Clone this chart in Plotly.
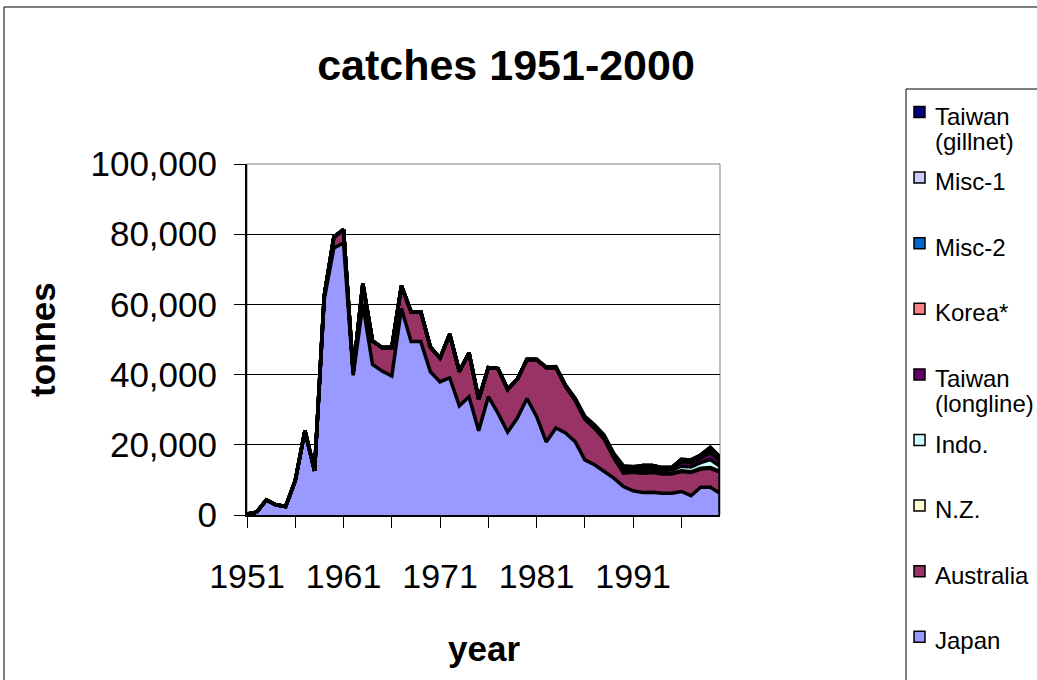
import plotly.graph_objects as go

# ---- data: southern bluefin tuna catches by fleet, tonnes ----
years = list(range(1951, 2001))

japan = [
    300, 800, 4300, 2900, 2400, 9800, 24000, 12600, 61500, 76100,
    77500, 39800, 60000, 42900, 41000, 39600, 58800, 49400, 49400, 40800,
    37900, 39100, 31100, 33700, 24000, 33700, 29000, 23600, 27600, 33200,
    28100, 20800, 24800, 23400, 20900, 15700, 14300, 12400, 10500, 8100,
    6900, 6400, 6500, 6200, 6200, 6700, 5500, 7900, 7900, 6200,
]
australia = [
    0, 0, 0, 0, 0, 0, 0, 0, 900, 3100,
    3800, 800, 5900, 6700, 6700, 8100, 6500, 8500, 8500, 7000,
    6800, 12400, 9800, 12500, 9000, 8300, 12700, 12200, 11100, 11100,
    16200, 21200, 17200, 13200, 11800, 11600, 10400, 9200, 5800, 3800,
    5300, 5500, 5600, 5500, 5500, 5700, 6600, 5200, 5400, 6000,
]
new_zealand = [
    0, 0, 0, 0, 0, 0, 0, 0, 0, 0,
    0, 0, 0, 0, 0, 0, 0, 0, 0, 0,
    0, 0, 0, 0, 0, 0, 0, 0, 0, 0,
    0, 0, 100, 100, 100, 100, 200, 200, 200, 200,
    200, 100, 200, 200, 200, 200, 200, 200, 200, 200,
]
indonesia = [
    0, 0, 0, 0, 0, 0, 0, 0, 0, 0,
    0, 0, 0, 0, 0, 0, 0, 0, 0, 0,
    0, 0, 0, 0, 0, 0, 0, 0, 0, 0,
    0, 0, 0, 0, 0, 0, 0, 0, 100, 300,
    300, 1000, 900, 800, 900, 1300, 1400, 1600, 2300, 1500,
]
taiwan_longline = [
    0, 0, 0, 0, 0, 0, 0, 0, 0, 0,
    0, 0, 0, 0, 0, 0, 0, 0, 0, 0,
    0, 0, 0, 0, 0, 0, 0, 0, 0, 0,
    0, 0, 0, 100, 200, 300, 300, 400, 300, 800,
    800, 1000, 800, 700, 600, 1300, 1200, 1300, 2000, 1400,
]
korea = [
    0, 0, 0, 0, 0, 0, 0, 0, 0, 0,
    0, 0, 0, 0, 0, 0, 0, 0, 0, 0,
    0, 0, 0, 0, 0, 0, 0, 0, 0, 0,
    0, 0, 0, 0, 0, 0, 0, 0, 0, 0,
    0, 100, 100, 100, 100, 500, 600, 700, 1200, 700,
]
misc_2 = [
    0, 0, 0, 0, 0, 0, 0, 0, 0, 0,
    0, 0, 0, 0, 0, 0, 0, 0, 0, 0,
    0, 0, 0, 0, 0, 0, 0, 0, 0, 0,
    0, 0, 0, 0, 0, 0, 0, 0, 0, 100,
    0, 0, 0, 0, 0, 100, 100, 100, 100, 100,
]
misc_1 = [
    0, 0, 0, 0, 0, 0, 0, 0, 0, 0,
    0, 0, 0, 0, 0, 0, 0, 0, 0, 0,
    0, 0, 0, 0, 0, 0, 0, 0, 0, 0,
    0, 0, 0, 0, 0, 0, 0, 0, 0, 200,
    100, 0, 0, 0, 0, 100, 100, 100, 200, 400,
]
taiwan_gillnet = [
    0, 0, 0, 0, 0, 0, 0, 0, 0, 0,
    0, 0, 0, 0, 0, 0, 0, 0, 0, 0,
    0, 0, 0, 0, 0, 0, 0, 0, 0, 0,
    0, 200, 200, 200, 300, 400, 500, 600, 700, 500,
    200, 0, 0, 0, 0, 0, 0, 0, 0, 0,
]

# stacking order, bottom to top
series_names = ["Japan", "Australia", "N.Z.", "Indo.", "Taiwan (longline)",
                "Korea*", "Misc-2", "Misc-1", "Taiwan (gillnet)"]
series_values = [japan, australia, new_zealand, indonesia, taiwan_longline,
                 korea, misc_2, misc_1, taiwan_gillnet]
series_colors = ["#9999FF", "#993366", "#FFFFCC", "#CCFFFF", "#660066",
                 "#FF8080", "#0066CC", "#CCCCFF", "#000080"]

x_tick_labels = [1951, 1961, 1971, 1981, 1991]
x_minor_ticks = [1956, 1966, 1976, 1986, 1996]
y_tick_values = [0, 20000, 40000, 60000, 80000, 100000]

# ---- page geometry (pixels) ----
W, H = 1037, 680
ML, MR, MT, MB = 247, 317, 164, 165
PW, PH = W - ML - MR, H - MT - MB
FONT = "Liberation Sans, Arial, sans-serif"


def fx(x):
    """page x pixel -> paper coordinate"""
    return (x - ML) / PW


def fy(y):
    """page y pixel -> paper coordinate"""
    return (H - MB - y) / PH


fig = go.Figure()
for name, color, vals in zip(series_names, series_colors, series_values):
    fig.add_trace(go.Scatter(
        x=years, y=vals, name=name, mode="lines", stackgroup="catch",
        line=dict(color="black", width=3.5), fillcolor=color,
        showlegend=False,
    ))

shapes = []
# plot-area frame
shapes.append(dict(type="rect", xref="paper", yref="paper", x0=0, x1=1, y0=0, y1=1,
                   line=dict(color="#808080", width=1), layer="between"))
# closing edge of the stacked area at the last year
last_total = sum(v[-1] for v in series_values)
shapes.append(dict(type="line", xref="x", yref="y", x0=years[-1], x1=years[-1],
                   y0=0, y1=last_total, line=dict(color="black", width=3.5)))
# chart frame
shapes.append(dict(type="rect", xref="paper", yref="paper",
                   x0=fx(4), x1=fx(W + 20), y0=fy(H + 20), y1=fy(7),
                   line=dict(color="black", width=1), layer="above"))
# legend frame
shapes.append(dict(type="rect", xref="paper", yref="paper",
                   x0=fx(906), x1=fx(W + 20), y0=fy(H + 20), y1=fy(89),
                   line=dict(color="black", width=1), layer="above"))

annotations = []
# legend entries, listed top-down in reverse stacking order
legend_order = list(zip(series_names, series_colors))[::-1]
for i, (name, color) in enumerate(legend_order):
    yc = 116 + 65.6 * i
    shapes.append(dict(type="rect", xref="paper", yref="paper",
                       x0=fx(914), x1=fx(925), y0=fy(yc - 4 + 5.5), y1=fy(yc - 4 - 5.5),
                       fillcolor=color, line=dict(color="black", width=1.5), layer="above"))
    lines = name.split(" ", 1) if name.startswith("Taiwan") else [name]
    for j, part in enumerate(lines):
        annotations.append(dict(
            text=part, xref="paper", yref="paper", x=fx(933), y=fy(yc + 25 * j),
            xanchor="left", yanchor="middle", showarrow=False,
            font=dict(family=FONT, size=24, color="black"),
        ))

annotations.append(dict(
    text="tonnes", xref="paper", yref="paper", x=fx(42), y=fy(340),
    xanchor="center", yanchor="middle", textangle=-90, showarrow=False,
    font=dict(family=FONT, size=35, color="black", weight="bold"),
))
annotations.append(dict(
    text="year", xref="paper", yref="paper", x=fx(484), y=fy(648),
    xanchor="center", yanchor="middle", showarrow=False,
    font=dict(family=FONT, size=35, color="black", weight="bold"),
))

fig.update_layout(
    width=W, height=H,
    margin=dict(l=ML, r=MR, t=MT, b=MB, pad=0),
    paper_bgcolor="white", plot_bgcolor="white",
    font=dict(family=FONT, color="black"),
    title=dict(text="catches 1951-2000", x=506 / W, y=1 - 65 / H,
               xref="container", yref="container", xanchor="center", yanchor="middle",
               font=dict(family=FONT, size=43, color="black", weight="bold")),
    xaxis=dict(
        range=[years[0], years[-1]], tickmode="array", tickvals=x_tick_labels,
        ticktext=[str(v) for v in x_tick_labels],
        ticks="outside", ticklen=11, tickwidth=1, tickcolor="black",
        minor=dict(tickmode="array", tickvals=x_minor_ticks, ticks="outside",
                   ticklen=11, tickwidth=1, tickcolor="black", showgrid=False),
        showline=True, linecolor="black", linewidth=2,
        showgrid=False, zeroline=False,
        tickfont=dict(family=FONT, size=34, color="black"),
        ticklabelstandoff=19,
    ),
    yaxis=dict(
        range=[0, 100000], tickmode="array", tickvals=y_tick_values, tickformat=",",
        ticks="outside", ticklen=11, tickwidth=1, tickcolor="black",
        showline=True, linecolor="black", linewidth=2,
        showgrid=True, gridcolor="black", gridwidth=1, zeroline=False,
        tickfont=dict(family=FONT, size=35, color="black"),
        ticklabelstandoff=10,
    ),
    shapes=shapes,
    annotations=annotations,
    showlegend=False,
)

fig.write_html("out.html")
